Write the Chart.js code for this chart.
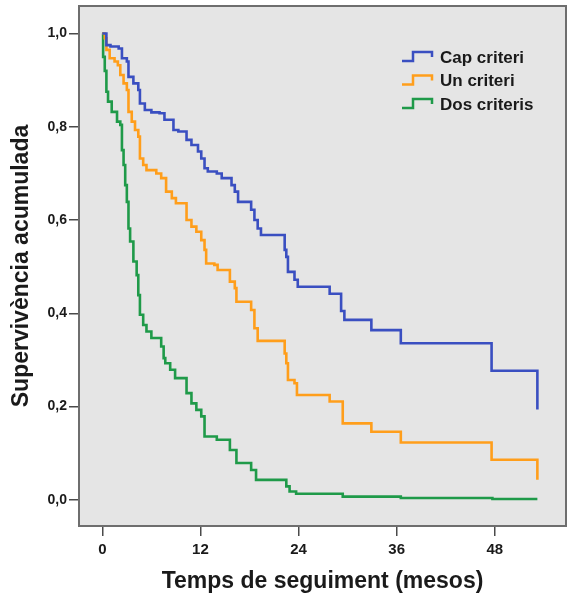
<!DOCTYPE html>
<html>
<head>
<meta charset="utf-8">
<script src="https://cdn.jsdelivr.net/npm/chart.js@4.4.1/dist/chart.umd.min.js"></script>
<style>
  html, body { margin: 0; padding: 0; background: #fff; }
  canvas { display: block; }
</style>
</head>
<body>
<canvas id="km" width="567" height="601"></canvas>
<script>
// survival curves (months, cumulative survival)
const seriesNames = ['Cap criteri', 'Un criteri', 'Dos criteris'];
const seriesColors = ['#3a4fc1', '#ff9e1b', '#1f9a49'];

const capTimes = [0, 0.5, 1.0, 2.0, 2.4, 3.0, 3.2, 3.8, 4.4, 4.6, 5.2, 6.0, 7.0, 7.6, 8.7, 9.3, 10.3, 10.9, 11.7, 12.1,
  12.5, 12.9, 14.0, 14.6, 15.8, 16.2, 16.6, 18.2, 18.6, 19.0, 19.4, 22.3, 22.5, 22.7, 23.5, 23.9, 27.8, 29.2, 29.6, 32.9,
  36.5, 47.6, 53.2];
const capSurv = [1.0, 0.975, 0.972, 0.968, 0.947, 0.940, 0.907, 0.893, 0.879, 0.850, 0.836, 0.831, 0.829, 0.815, 0.793, 0.790, 0.772, 0.761, 0.747, 0.732,
  0.711, 0.704, 0.700, 0.690, 0.675, 0.661, 0.639, 0.622, 0.600, 0.582, 0.568, 0.536, 0.521, 0.489, 0.472, 0.457, 0.442, 0.405, 0.386, 0.364,
  0.336, 0.277, 0.194];

const unTimes = [0, 0.3, 0.5, 0.9, 1.5, 1.9, 2.2, 2.6, 3.0, 3.2, 3.6, 4.0, 4.4, 4.6, 5.0, 5.4, 6.6, 7.2, 7.8, 8.5,
  9.0, 10.3, 10.9, 11.5, 12.1, 12.5, 12.7, 13.7, 14.1, 15.6, 16.2, 16.4, 18.2, 18.6, 19.0, 22.3, 22.5, 22.7, 23.5, 23.8,
  27.8, 29.4, 32.9, 36.5, 47.6, 53.2];
const unSurv = [1.0, 0.99, 0.965, 0.947, 0.940, 0.932, 0.911, 0.893, 0.879, 0.832, 0.811, 0.793, 0.779, 0.732, 0.718, 0.707, 0.700, 0.690, 0.661, 0.647,
  0.636, 0.600, 0.586, 0.575, 0.557, 0.536, 0.507, 0.504, 0.493, 0.468, 0.454, 0.425, 0.407, 0.368, 0.341, 0.314, 0.293, 0.257, 0.250, 0.225,
  0.211, 0.164, 0.146, 0.123, 0.086, 0.043];

const dosTimes = [0, 0.1, 0.3, 0.5, 0.7, 1.15, 1.8, 2.2, 2.4, 2.6, 2.8, 3.0, 3.2, 3.4, 3.8, 4.2, 4.4, 4.6, 5.0, 5.4,
  6.0, 7.2, 7.5, 7.7, 8.3, 8.9, 10.3, 10.9, 11.5, 12.1, 12.5, 14.0, 15.6, 16.4, 18.2, 18.8, 22.5, 22.9, 23.7, 29.4,
  36.5, 47.7, 53.2];
const dosSurv = [1.0, 0.95, 0.92, 0.875, 0.854, 0.832, 0.811, 0.804, 0.75, 0.718, 0.675, 0.639, 0.582, 0.554, 0.511, 0.482, 0.439, 0.397, 0.375, 0.361,
  0.347, 0.329, 0.304, 0.293, 0.279, 0.261, 0.229, 0.207, 0.193, 0.179, 0.136, 0.129, 0.107, 0.079, 0.064, 0.043, 0.029, 0.018, 0.013, 0.007,
  0.004, 0.002, 0.002];

const xTicks = [0, 12, 24, 36, 48];
const yTicks = [0, 0.2, 0.4, 0.6, 0.8, 1.0];

const FONT = '"Liberation Sans", Arial, sans-serif';
const INK = '#1a1a1a';

function pts(t, s) {
  return t.map((v, i) => ({x: v, y: s[i]}));
}

// grey plot panel + frame
const panel = {
  id: 'panel',
  beforeDraw(chart) {
    const a = chart.chartArea, c = chart.ctx;
    c.save();
    c.fillStyle = '#e5e5e5';
    c.fillRect(a.left, a.top, a.right - a.left, a.bottom - a.top);
    c.restore();
  },
  afterDraw(chart) {
    const a = chart.chartArea, c = chart.ctx;
    c.save();
    c.strokeStyle = '#6e6e6e';
    c.lineWidth = 2;
    c.strokeRect(a.left, a.top, a.right - a.left, a.bottom - a.top);
    c.restore();
  }
};

// legend in the top right corner, with small step icons
const stepLegend = {
  id: 'stepLegend',
  afterDraw(chart) {
    const c = chart.ctx;
    const x0 = 402, y0 = 57, gap = 23.5;
    c.save();
    c.font = 'bold 17px ' + FONT;
    c.textBaseline = 'middle';
    chart.data.datasets.forEach((ds, i) => {
      const y = y0 + i * gap;
      c.strokeStyle = ds.borderColor;
      c.lineWidth = 2.5;
      c.beginPath();
      c.moveTo(x0, y + 4);
      c.lineTo(x0 + 11, y + 4);
      c.lineTo(x0 + 11, y - 5);
      c.lineTo(x0 + 30, y - 5);
      c.lineTo(x0 + 30, y);
      c.stroke();
      c.fillStyle = INK;
      c.fillText(ds.label, x0 + 38, y + 1);
    });
    c.restore();
  }
};

new Chart(document.getElementById('km'), {
  type: 'line',
  data: {
    datasets: [
      {label: seriesNames[0], data: pts(capTimes, capSurv), borderColor: seriesColors[0]},
      {label: seriesNames[1], data: pts(unTimes, unSurv), borderColor: seriesColors[1]},
      {label: seriesNames[2], data: pts(dosTimes, dosSurv), borderColor: seriesColors[2]}
    ]
  },
  options: {
    responsive: false,
    animation: false,
    devicePixelRatio: 1,
    layout: {padding: {top: 6, right: 1, left: 0, bottom: 0}},
    elements: {
      line: {stepped: true, borderWidth: 2.6, fill: false, tension: 0},
      point: {radius: 0, hoverRadius: 0}
    },
    plugins: {
      legend: {display: false},
      tooltip: {enabled: false}
    },
    scales: {
      x: {
        type: 'linear',
        min: -2.85,
        max: 56.7,
        afterBuildTicks: s => { s.ticks = xTicks.map(v => ({value: v})); },
        afterFit: s => { s.height = 75; s.paddingLeft = 0; s.paddingRight = 0; },
        ticks: {
          color: INK,
          font: {family: FONT, size: 15, weight: 'bold'},
          padding: 5,
          maxRotation: 0
        },
        grid: {drawOnChartArea: false, tickLength: 10, color: '#4a4a4a', lineWidth: 1.5},
        border: {color: '#6e6e6e', width: 2},
        title: {
          display: true,
          text: 'Temps de seguiment (mesos)',
          color: INK,
          font: {family: FONT, size: 23, weight: 'bold'},
          padding: {top: 0, bottom: 6}
        }
      },
      y: {
        min: -0.056,
        max: 1.059,
        afterBuildTicks: s => { s.ticks = yTicks.map(v => ({value: v})); },
        afterFit: s => { s.width = 79; s.paddingTop = 0; s.paddingBottom = 0; },
        ticks: {
          color: INK,
          font: {family: FONT, size: 14, weight: 'bold'},
          padding: 2,
          callback: v => v.toFixed(1).replace('.', ',')
        },
        grid: {drawOnChartArea: false, tickLength: 10, color: '#4a4a4a', lineWidth: 1.5},
        border: {color: '#6e6e6e', width: 2},
        title: {
          display: true,
          text: 'Supervivència acumulada',
          color: INK,
          font: {family: FONT, size: 23, weight: 'bold'},
          padding: {top: 8, bottom: 0}
        }
      }
    }
  },
  plugins: [panel, stepLegend]
});
</script>
</body>
</html>
